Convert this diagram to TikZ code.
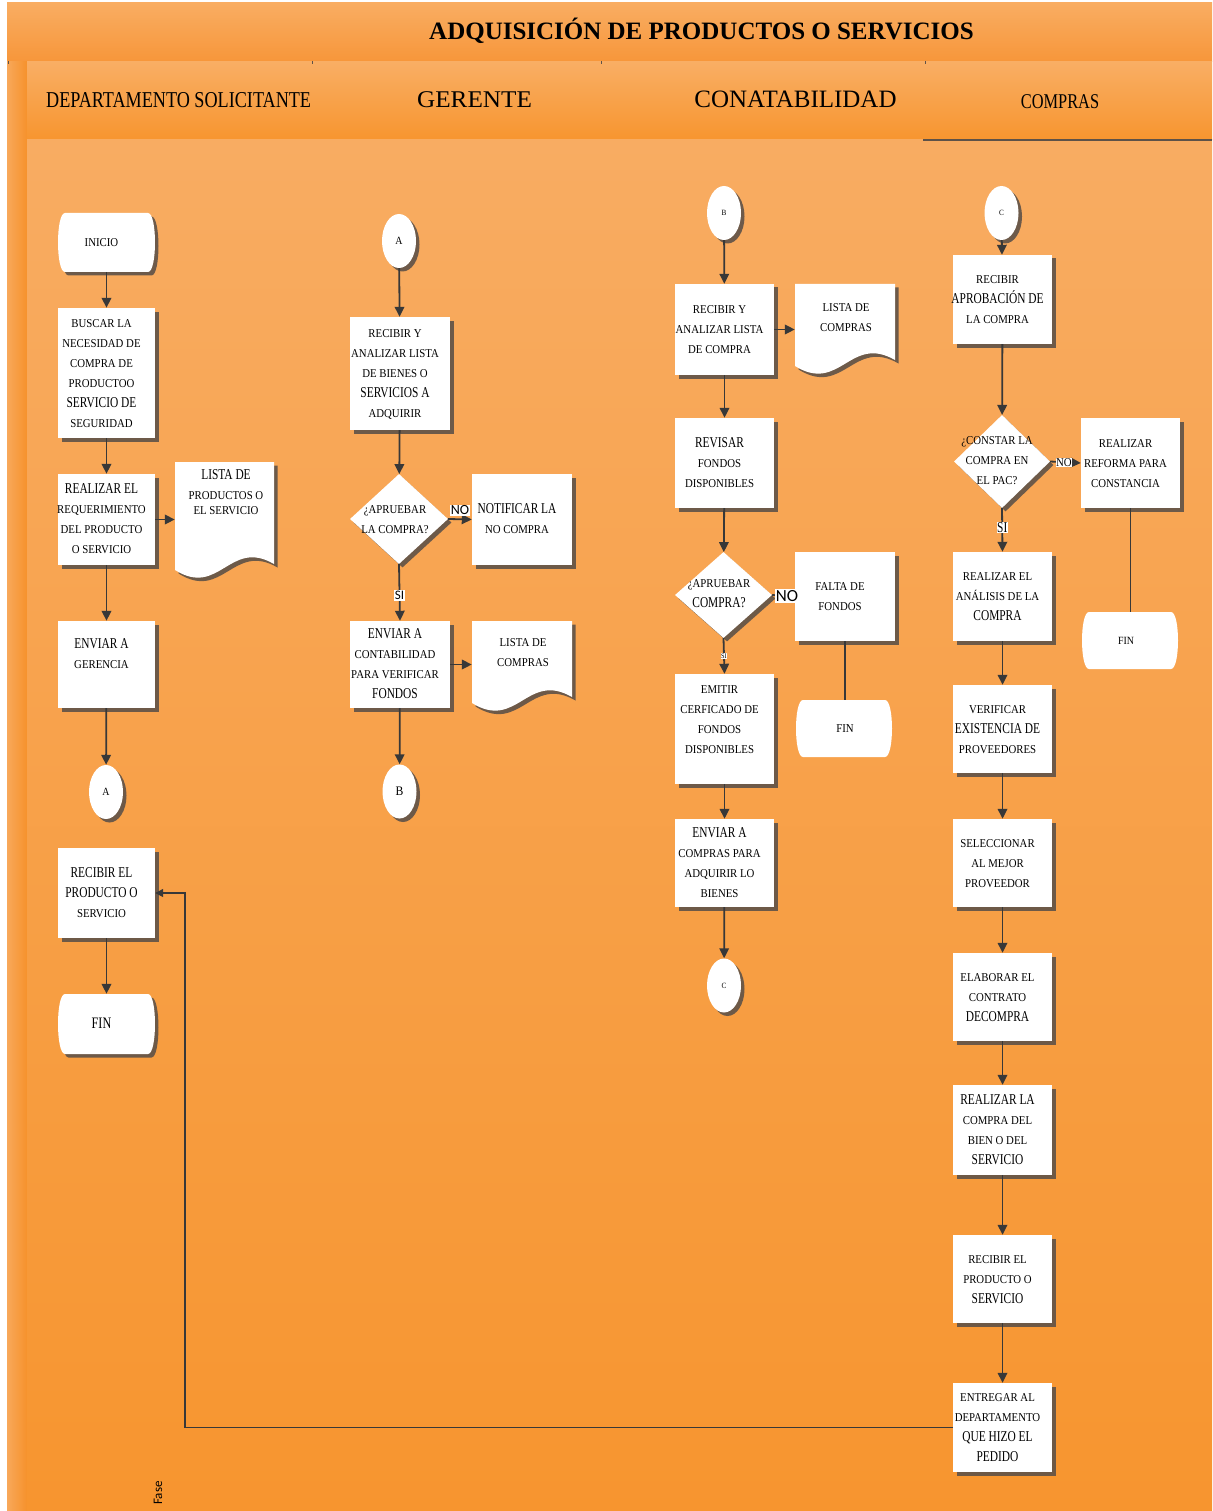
\documentclass[tikz,border=0pt]{standalone}
\usepackage{fontspec}
\usepackage{graphicx}
\setmainfont{Liberation Serif}
\newfontfamily\nf{Liberation Serif}[FakeStretch=0.9]
\newfontfamily\bfam{Liberation Serif}[FakeStretch=0.76]
\newfontfamily\carl{Carlito}
\usetikzlibrary{shapes.geometric,shadows,arrows.meta}
\definecolor{arrc}{HTML}{383838}
\definecolor{shc}{HTML}{5E5248}
\definecolor{tbA}{HTML}{F9AD62}
\definecolor{tbB}{HTML}{F7963A}
\definecolor{lsA}{HTML}{F8A85A}
\definecolor{lsB}{HTML}{F6922C}
\definecolor{hdA}{HTML}{F9AE64}
\definecolor{hdB}{HTML}{F7952F}
\definecolor{bdA}{HTML}{F8AC62}
\definecolor{bdB}{HTML}{F7952F}
\newcommand\Nf{\nf\fontsize{12}{20}\selectfont}
\newcommand\Bf{\bfam\fontsize{15}{20}\selectfont}
\newcommand\TL[1]{\begin{tabular}{@{\hspace{-5pt}}c@{\hspace{5pt}}}#1\end{tabular}}
\newcommand\docshape[4]{%
\fill[shc,opacity=.9] ({#1+3.5},{#2+3.5}) -- ({#1+#3+3.5},{#2+3.5}) -- ({#1+#3+3.5},{#2+#4-16+3.5}) .. controls ({#1+0.55*#3+3.5},{#2+#4-42+3.5}) and ({#1+0.45*#3+3.5},{#2+#4+18+3.5}) .. ({#1+3.5},{#2+#4-10+3.5}) -- cycle;
\fill[white] (#1,#2) -- ({#1+#3},#2) -- ({#1+#3},{#2+#4-16}) .. controls ({#1+0.55*#3},{#2+#4-42}) and ({#1+0.45*#3},{#2+#4+18}) .. (#1,{#2+#4-10}) -- cycle;}
% terminal outline: centre x, centre y, width, height
\newcommand\termpath[4]{({#1-#3/2+7},{#2-#4/2}) -- ({#1+#3/2-7},{#2-#4/2}) .. controls ({#1+#3/2+2.33},{#2-#4/2}) and ({#1+#3/2+2.33},{#2+#4/2}) .. ({#1+#3/2-7},{#2+#4/2}) -- ({#1-#3/2+7},{#2+#4/2}) .. controls ({#1-#3/2-2.33},{#2+#4/2}) and ({#1-#3/2-2.33},{#2-#4/2}) .. ({#1-#3/2+7},{#2-#4/2}) -- cycle}
\newcommand\termshape[5]{%
\ifnum#5=1 \fill[shc,opacity=.9,shift={(3.5,3.5)}] \termpath{#1}{#2}{#3}{#4};\fi
\fill[white] \termpath{#1}{#2}{#3}{#4};}
\begin{document}
\begin{tikzpicture}[x=1pt,y=-1pt,
  shad/.style={drop shadow={shadow xshift=3.5pt,shadow yshift=-3.5pt,fill=shc,opacity=.9}},
  pbox/.style={rectangle,fill=white,inner sep=0pt,font=\Nf,shad},
  termn/.style={rectangle,inner sep=0pt,font=\Nf},
  conn/.style={ellipse,fill=white,inner sep=0pt,font=\Nf,minimum width=34,minimum height=54,shad},
  dec/.style={diamond,fill=white,inner sep=0pt,minimum width=98,minimum height=90,shad},
  txt/.style={inner sep=0pt,align=center,font=\Nf},
  docn/.style={rectangle,inner sep=0pt},
  arr/.style={draw=arrc,line width=1.8pt,-{Triangle[length=10pt,width=9.5pt]}},
  plainln/.style={draw=arrc,line width=1.2pt},
  fbline/.style={draw=arrc,line width=1.3pt,-{Triangle[length=8pt,width=8pt]}},
  lbls/.style={fill=white,inner sep=1pt,text=black},
  hdr/.style={inner sep=0pt,anchor=base}]
\useasboundingbox (0,0) rectangle (1212,1511);
% background
\fill[white] (0,0) rectangle (1212,1511);
\shade[top color=tbA,bottom color=tbB] (7,3) rectangle (1212,62);
\shade[left color=lsA,right color=lsB] (7,62) rectangle (27,1511);
\shade[top color=hdA,bottom color=hdB] (27,62) rectangle (1212,140);
\shade[top color=bdA,bottom color=bdB] (27,140) rectangle (1212,1511);
\draw[shc,line width=1.2pt] (923,140) -- (1212,140);
\foreach \tx in {8,312,601,925} \draw[shc,line width=1pt] (\tx,61) -- (\tx,64);
% headers
\node[hdr,font=\bfseries\fontsize{25}{30}\selectfont] (title) at (701.5,40) {ADQUISICIÓN DE PRODUCTOS O SERVICIOS};
\node[hdr,anchor=base west] (h1) at (46,108) {\fontsize{22.7}{24}\selectfont\scalebox{0.8}[1]{DEPARTAMENTO SOLICITANTE}};
\node[hdr] (h2) at (474.5,108) {\fontsize{24}{26}\selectfont\scalebox{1.05}[1]{GERENTE}};
\node[hdr] (h3) at (795.5,108) {\fontsize{25}{26}\selectfont CONATABILIDAD};
\node[hdr] (h4) at (1060,109) {\fontsize{21}{24}\selectfont\scalebox{0.78}[1]{COMPRAS}};
% document and terminal shapes
\docshape{175}{462}{99}{118}
\docshape{472}{621}{100}{92}
\docshape{795}{284}{100}{92}
\termshape{106.5}{242.5}{97}{59}{1}
\termshape{106.5}{1024}{97}{60}{1}
\termshape{844}{728.5}{96}{57}{0}
\termshape{1130}{640.5}{96}{57}{0}
% column 1
\node[termn,minimum width=97,minimum height=59] (ini) at (106.5,242.5) {\TL{INICIO}};
\node[pbox,minimum width=97,minimum height=130] (bus) at (106.5,373) {\TL{BUSCAR LA\\NECESIDAD DE\\COMPRA DE\\PRODUCTOO\\{\Bf SERVICIO DE}\\SEGURIDAD}};
\node[pbox,minimum width=97,minimum height=91] (req) at (106.5,519.5) {\TL{{\Bf REALIZAR EL}\\REQUERIMIENTO\\DEL PRODUCTO\\O SERVICIO}};
\node[docn,minimum width=99,minimum height=100] (d1) at (224.5,519.5) {};
\node[txt] (d1t) at (226,492) {{\Bf LISTA DE}\\PRODUCTOS O\\[-5pt]EL SERVICIO};
\node[pbox,minimum width=97,minimum height=87] (env) at (106.5,664.5) {\TL{{\Bf ENVIAR A}\\GERENCIA\\\mbox{}}};
\node[conn,font=\nf\fontsize{11}{12}\selectfont] (a1) at (106,792) {A};
\node[pbox,minimum width=97,minimum height=90] (rec) at (106.5,893) {\TL{{\Bf RECIBIR EL}\\{\Bf PRODUCTO O}\\SERVICIO}};
\node[termn,minimum width=97,minimum height=60] (fin1) at (106.5,1024) {\TL{\bfam\fontsize{16}{20}\selectfont FIN}};
% column 2
\node[conn,font=\nf\fontsize{11}{12}\selectfont] (a2) at (399,241) {A};
\node[pbox,minimum width=100,minimum height=113] (rya) at (400,373.5) {\TL{RECIBIR Y\\ANALIZAR LISTA\\DE BIENES O\\{\Bf SERVICIOS A}\\ADQUIRIR}};
\node[dec] (dia1) at (399,519) {};
\node[txt] (dia1t) at (395,519.5) {¿APRUEBAR\\LA COMPRA?};
\node[pbox,minimum width=100,minimum height=91] (noti) at (522,519.5) {\TL{{\Bf NOTIFICAR LA}\\NO COMPRA}};
\node[pbox,minimum width=100,minimum height=87] (envc) at (400,664.5) {\TL{{\Bf ENVIAR A}\\CONTABILIDAD\\PARA VERIFICAR\\{\Bf FONDOS}}};
\node[docn,minimum width=100,minimum height=80] (d2) at (522,664.5) {};
\node[txt] (d2t) at (523,653) {LISTA DE\\COMPRAS};
\node[conn,font=\nf\fontsize{13}{14}\selectfont] (b2) at (399.5,791.5) {B};
% column 3
\node[conn,font=\nf\fontsize{8}{9}\selectfont] (b3) at (724,213) {B};
\node[pbox,minimum width=99,minimum height=91] (ral) at (724.5,329.5) {\TL{RECIBIR Y\\ANALIZAR LISTA\\DE COMPRA}};
\node[docn,minimum width=100,minimum height=80] (d3) at (845,329.5) {};
\node[txt] (d3t) at (846,318) {LISTA DE\\COMPRAS};
\node[pbox,minimum width=99,minimum height=90] (rev) at (724.5,463) {\TL{{\Bf REVISAR}\\FONDOS\\DISPONIBLES}};
\node[dec,minimum width=97,minimum height=86] (dia2) at (723.5,595) {};
\node[txt] (dia2t) at (719,594) {¿APRUEBAR\\{\Bf COMPRA?}};
\node[pbox,minimum width=100,minimum height=89] (falta) at (845,596.5) {\TL{FALTA DE\\FONDOS}};
\node[termn,minimum width=96,minimum height=57] (fin3) at (845,728.5) {FIN};
\node[pbox,minimum width=99,minimum height=110] (emi) at (724.5,729) {\TL{EMITIR\\CERFICADO DE\\FONDOS\\DISPONIBLES\\\mbox{}}};
\node[pbox,minimum width=99,minimum height=88] (enco) at (724.5,863) {\TL{{\Bf ENVIAR A}\\COMPRAS PARA\\ADQUIRIR LO\\BIENES}};
\node[conn,font=\nf\fontsize{8}{9}\selectfont] (c3) at (724,985.5) {C};
% column 4
\node[conn,font=\nf\fontsize{8}{9}\selectfont] (c4) at (1001.5,213) {C};
\node[pbox,minimum width=99,minimum height=89] (rap) at (1002.5,299.5) {\TL{RECIBIR\\{\Bf APROBACIÓN DE}\\LA COMPRA}};
\node[dec,minimum width=96,minimum height=93] (dia3) at (1002,461.5) {};
\node[txt] (dia3t) at (997,461) {¿CONSTAR LA\\COMPRA EN\\EL PAC?};
\node[pbox,minimum width=99,minimum height=90] (refo) at (1130.5,463) {\TL{REALIZAR\\REFORMA PARA\\CONSTANCIA}};
\node[termn,minimum width=96,minimum height=57,font=\nf\fontsize{11}{12}\selectfont] (fin4) at (1126,640.5) {FIN};
\node[pbox,minimum width=99,minimum height=89] (ana) at (1002.5,596.5) {\TL{REALIZAR EL\\ANÁLISIS DE LA\\{\Bf COMPRA}}};
\node[pbox,minimum width=99,minimum height=88] (ver) at (1002.5,729) {\TL{VERIFICAR\\{\Bf EXISTENCIA DE}\\PROVEEDORES}};
\node[pbox,minimum width=99,minimum height=88] (sel) at (1002.5,863) {\TL{SELECCIONAR\\AL MEJOR\\PROVEEDOR}};
\node[pbox,minimum width=99,minimum height=88] (ela) at (1002.5,997) {\TL{ELABORAR EL\\CONTRATO\\{\Bf DECOMPRA}}};
\node[pbox,minimum width=99,minimum height=90] (rco) at (1002.5,1130) {\TL{{\Bf REALIZAR LA}\\COMPRA DEL\\BIEN O DEL\\{\Bf SERVICIO}}};
\node[pbox,minimum width=99,minimum height=88] (rpr) at (1002.5,1279) {\TL{RECIBIR EL\\PRODUCTO O\\{\Bf SERVICIO}}};
\node[pbox,minimum width=99,minimum height=89] (ent) at (1002.5,1427.5) {\TL{ENTREGAR AL\\DEPARTAMENTO\\{\Bf QUE HIZO EL}\\{\Bf PEDIDO}}};
% Fase
\node[rotate=90,inner sep=0pt,font=\carl\fontsize{13}{13}\selectfont] (fase) at (158,1493) {Fase};
% connectors column 1
\draw[arr] (ini) -- (bus);
\draw[arr] (bus) -- (req);
\draw[arr] (req.east) -- (d1.west);
\draw[arr] (req) -- (env);
\draw[arr] (env) -- (a1);
\draw[arr] (rec) -- (fin1);
\coordinate (fbk) at (185,893);
\draw[fbline] (ent.west) -| (fbk) -- (rec.east);
% column 2
\draw[arr] (a2) -- (rya);
\draw[arr] (rya) -- (dia1);
\draw[arr] (dia1.east) -- node[lbls,pos=.5,yshift=9pt,font=\carl\fontsize{14}{14}\selectfont]{NO} (noti.west);
\draw[arr] (dia1.south) -- node[lbls,pos=.55,font=\carl\fontsize{13}{13}\selectfont]{SI} (envc.north);
\draw[arr] (envc.east) -- (d2.west);
\draw[arr] (envc) -- (b2);
% column 3
\draw[arr] (b3) -- (ral);
\draw[arr] (ral.east) -- (d3.west);
\draw[arr] (ral) -- (rev);
\draw[arr] (rev) -- (dia2);
\draw[arr] (dia2.east) -- node[lbls,pos=.65,font=\carl\fontsize{17}{17}\selectfont]{NO} (falta.west);
\draw[arr] (dia2.south) -- node[lbls,pos=.5,inner sep=.5pt,font=\nf\fontsize{7}{7}\selectfont]{SI} (emi.north);
\draw[plainln] (falta) -- (fin3);
\draw[arr] (emi) -- (enco);
\draw[arr] (enco) -- (c3);
% column 4
\draw[arr] (c4) -- (rap);
\draw[arr] (rap) -- (dia3);
\draw[arr] (dia3.east) -- node[lbls,pos=.45,inner sep=.5pt,font=\Nf]{NO} (refo.west);
\draw[arr] (dia3.south) -- node[lbls,pos=.45,inner sep=.5pt,font=\Bf]{SI} (ana.north);
\draw[plainln] (refo) -- (refo.south |- fin4.north);
\draw[arr] (ana) -- (ver);
\draw[arr] (ver) -- (sel);
\draw[arr] (sel) -- (ela);
\draw[arr] (ela) -- (rco);
\draw[arr] (rco) -- (rpr);
\draw[arr] (rpr) -- (ent);
\end{tikzpicture}
\end{document}
